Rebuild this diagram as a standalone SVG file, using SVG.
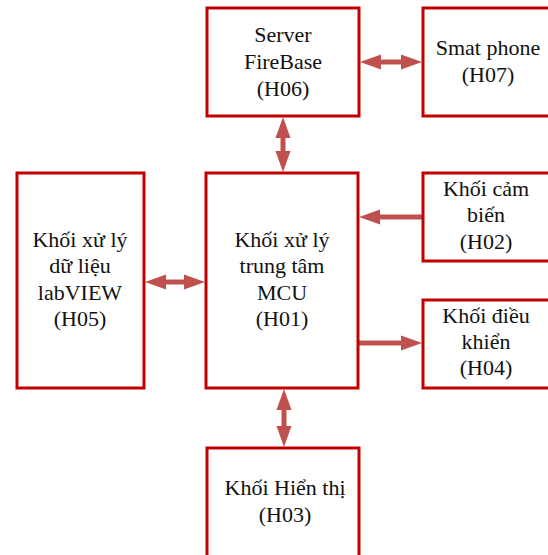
<svg xmlns="http://www.w3.org/2000/svg" width="548" height="555" viewBox="0 0 548 555">
<style>
.box{fill:#fff;stroke:#C00000;stroke-width:3}
.c{stroke:#C0504D;stroke-width:5;fill:none}
</style>
<defs>
<marker id="ah" markerUnits="userSpaceOnUse" markerWidth="22" markerHeight="16" viewBox="0 -8 21 16" refX="0" refY="0" orient="auto-start-reverse">
<path d="M0,-7.5 L21,0 L0,7.5 z" fill="#C0504D"/>
</marker>
</defs>
<g id="connectors">
<line class="c" x1="381" y1="62" x2="401" y2="62" marker-start="url(#ah)" marker-end="url(#ah)"/>
<line class="c" x1="283" y1="138" x2="283" y2="151" marker-start="url(#ah)" marker-end="url(#ah)"/>
<line class="c" x1="166" y1="282" x2="184" y2="282" marker-start="url(#ah)" marker-end="url(#ah)"/>
<line class="c" x1="423" y1="217" x2="380" y2="217" marker-end="url(#ah)"/>
<line class="c" x1="358" y1="343" x2="401" y2="343" marker-end="url(#ah)"/>
<line class="c" x1="284" y1="410" x2="284" y2="426" marker-start="url(#ah)" marker-end="url(#ah)"/>
</g>
<g id="H06"><rect class="box" x="207" y="8" width="152" height="108"/>
<g font-family="Liberation Serif" font-size="22" fill="#111" text-anchor="middle">
<text x="283" y="42">Server</text><text x="283" y="69">FireBase</text><text x="283" y="96">(H06)</text></g></g>
<g id="H07"><rect class="box" x="423" y="8" width="140" height="108"/>
<g font-family="Liberation Serif" font-size="22" fill="#111" text-anchor="middle">
<text x="488" y="55">Smat phone</text><text x="488" y="82">(H07)</text></g></g>
<g id="H05"><rect class="box" x="17" y="173" width="127" height="215"/>
<g font-family="Liberation Serif" font-size="22" fill="#111" text-anchor="middle">
<text x="80" y="247">Khối xử lý</text><text x="80" y="273">dữ liệu</text><text x="80" y="300">labVIEW</text><text x="80" y="326">(H05)</text></g></g>
<g id="H01"><rect class="box" x="206" y="173" width="152" height="215"/>
<g font-family="Liberation Serif" font-size="22" fill="#111" text-anchor="middle">
<text x="282" y="247">Khối xử lý</text><text x="282" y="273">trung tâm</text><text x="282" y="300">MCU</text><text x="282" y="326">(H01)</text></g></g>
<g id="H02"><rect class="box" x="423" y="173" width="140" height="88"/>
<g font-family="Liberation Serif" font-size="22" fill="#111" text-anchor="middle">
<text x="486" y="196">Khối cảm</text><text x="486" y="222">biến</text><text x="486" y="249">(H02)</text></g></g>
<g id="H04"><rect class="box" x="423" y="300" width="140" height="88"/>
<g font-family="Liberation Serif" font-size="22" fill="#111" text-anchor="middle">
<text x="486" y="323">Khối điều</text><text x="486" y="349">khiển</text><text x="486" y="375">(H04)</text></g></g>
<g id="H03"><rect class="box" x="207" y="448" width="152" height="120"/>
<g font-family="Liberation Serif" font-size="22" fill="#111" text-anchor="middle">
<text x="285" y="495">Khối Hiển thị</text><text x="285" y="522">(H03)</text></g></g>
</svg>
